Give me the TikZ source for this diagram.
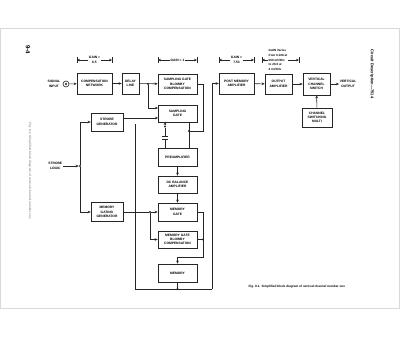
\documentclass[tikz,border=0pt]{standalone}
\usepackage{fontspec}
\setmainfont{Liberation Sans}
\usetikzlibrary{arrows.meta,calc}
\newcommand\gainbr[5]{%
 \node[lbl] (#1) at ({(#2+#3)/2},#4) {#5};
 \draw[arr] (#1.west) -- (#2,#4);
 \draw[arr] (#1.east) -- (#3,#4);
 \draw[tick] (#2,#4-3) -- (#2,#4+3);
 \draw[tick] (#3,#4-3) -- (#3,#4+3);}
\begin{document}
\begin{tikzpicture}[x=1pt,y=-1pt,
  blk/.style={draw=black!85,line width=0.6pt,align=center,inner sep=0pt,font=\fontsize{3.3}{4.3}\selectfont\bfseries},
  lbl/.style={align=center,inner sep=0.6pt,font=\fontsize{3.3}{4.3}\selectfont\bfseries},
  wire/.style={draw=black!85,line width=0.55pt},
  arr/.style={wire,-{Stealth[length=3pt,width=2.6pt]}},
  dot/.style={circle,fill=black!85,inner sep=0pt,minimum size=2.2pt},
  tick/.style={draw=black!85,line width=0.5pt}
]
\useasboundingbox (0,0) rectangle (400,339);
\fill[white] (0,0) rectangle (400,339);
\draw[black!15,line width=1pt] (0.5,28.5) rectangle (399.5,309);

% margin texts
\node[font=\fontsize{6}{7}\selectfont\bfseries,rotate=-90] (pg) at (28,50) {9-4};
\node[font=\fontsize{4}{5}\selectfont\bfseries,rotate=-90] (hdr) at (372,74) {Circuit Description—7514};
\node[font=\fontsize{3.1}{4}\selectfont\bfseries,text=black!40,rotate=-90] (lcap) at (30,171) {Fig. 9-1. Simplified block diagram of vertical channel number one};
\node[font=\fontsize{3.1}{4}\selectfont\bfseries,anchor=west] (cap) at (245,287) {Fig. 9-1. Simplified block diagram of vertical channel number one};

% blocks
\node[blk,minimum width=35pt,minimum height=21pt] (comp) at (94.5,83.5) {COMPENSATION\\NETWORK};
\node[blk,minimum width=17pt,minimum height=21pt] (delay) at (130.5,83.5) {DELAY\\LINE};
\node[blk,minimum width=39pt,minimum height=20pt] (sgbc) at (177.5,84) {SAMPLING GATE\\BLOWBY\\COMPENSATION};
\node[blk,minimum width=39pt,minimum height=17pt] (sg) at (177.5,113.5) {SAMPLING\\GATE};
\node[blk,minimum width=35pt,minimum height=21pt] (pma) at (236.5,83.5) {POST MEMORY\\AMPLIFIER};
\node[blk,minimum width=27pt,minimum height=20pt] (oa) at (278.5,84) {OUTPUT\\AMPLIFIER};
\node[blk,minimum width=27pt,minimum height=22pt] (vcs) at (316.5,84) {VERTICAL\\CHANNEL\\SWITCH};
\node[blk,minimum width=30pt,minimum height=19pt] (csm) at (317,117.5) {CHANNEL\\SWITCHING\\MULTI};
\node[blk,minimum width=32pt,minimum height=18pt] (sgen) at (107,122) {STROBE\\GENERATOR};
\node[blk,minimum width=39pt,minimum height=18pt] (pre) at (177.5,157) {PREAMPLIFIER};
\node[blk,minimum width=39pt,minimum height=17pt] (dcb) at (177.5,184.5) {DC BALANCE\\AMPLIFIER};
\node[blk,minimum width=39pt,minimum height=18pt] (mg) at (177.5,212) {MEMORY\\GATE};
\node[blk,minimum width=32pt,minimum height=19pt] (mgg) at (107,212) {MEMORY\\GATING\\GENERATOR};
\node[blk,minimum width=39pt,minimum height=17pt] (mgbc) at (177.5,239.5) {MEMORY GATE\\BLOWBY\\COMPENSATION};
\node[blk,minimum width=39pt,minimum height=18pt] (mem) at (177.5,273) {MEMORY};

% signal input
\node[circle,draw=black!85,line width=0.6pt,minimum size=6pt,inner sep=0pt] (sig) at (66,84) {};
\fill[black!85] (sig.center) circle (1.1pt);
\node[lbl,anchor=east] (siglbl) at (61,84) {SIGNAL\\INPUT};
\node[lbl,anchor=east] (slog) at (63,166) {STROBE\\LOGIC};
\node[lbl,anchor=west] (vo) at (339,84) {VERTICAL\\OUTPUT};

% gain brackets
\gainbr{g1}{77}{112}{60}{GAIN =\\6.5}
\gainbr{g2}{158}{197}{60}{GAIN = 1}
\gainbr{g3}{219}{254}{60}{GAIN =\\7.53}
\node[lbl,align=left,font=\fontsize{3}{4.8}\selectfont\bfseries] (g4) at (278,60) {GAIN Varies\\from 0.108 at\\500 mV/Div\\to 26.0 at\\2 mV/Div};
\draw[arr] (g4.west) -- (262,60);
\draw[arr] (g4.east) -- (299,60);
\draw[tick] (262,57) -- (262,63);
\draw[tick] (299,57) -- (299,63);

% junctions / points
\node[dot] (j1) at (148,84) {};
\node[dot] (j2) at (80,166) {};
\node[dot] (j3) at (150,212) {};
\node[dot] (j4) at (203,239.5) {};
\node[dot] (j5) at (189,131) {};
\node[dot] (j6) at (177.5,289) {};
\node[dot] (j7) at (165,126.5) {};
\coordinate (sgin1) at (158,108);
\coordinate (sgin2) at (158,118);
\coordinate (sgout) at (123,118);
\coordinate (c5) at (203,257);
\coordinate (c6) at (203,84);
\coordinate (fbL) at (135,289);
\coordinate (fbT) at (135,124);
\coordinate (fbR) at (212,289);
\coordinate (sgb1) at (165,122);
\coordinate (capT) at (165,136.5);
\coordinate (capB) at (165,139.5);
\coordinate (pre1) at (165,148);
\coordinate (sgb2) at (189,122);
\coordinate (pre2) at (189,148);

% main signal path
\draw[arr] (sig) -- (comp);
\draw[arr] (comp) -- (delay);
\draw[arr] (delay) -- (sgbc);
\draw[arr] (j1) |- (sgin1);
\draw[arr] (sgout) -- (sgin2);
\draw[arr] (slog) -- (j2);
\draw[arr] (j2) |- (sgen);
\draw[arr] (j2) |- (mgg);
\draw[wire] (mgg) -- (j3);
\draw[arr] (j3) -- (mg);
\draw[arr] (j3) |- (mgbc);
\draw[wire] (mgbc) -- (j4);
\draw[arr] (mg.east) -| (c5) -| (mem.north);
\draw[arr] (pre) -- (dcb);
\draw[arr] (dcb) -- (mg);

% sampling gate output / capacitor
\draw[arr] (j7) -- (sgb1);
\draw[wire] (j7) -- (capT);
\draw[wire] (capB) -- (pre1);
\draw[wire,line width=0.7pt] (162,136.5) -- (168,136.5);
\draw[wire,line width=0.7pt] (162,139.5) -- (168,139.5);
\draw[wire] (sgb2) -- (pre2);
\draw[wire] (sgbc.east) -- (c6) |- (j5);

% memory feedback / output
\draw[wire] (mem) -- (j6);
\draw[wire] (fbT) -- (fbL) -- (fbR);
\draw[arr] (fbR) |- (pma);
\draw[arr] (pma) -- (oa);
\draw[arr] (oa) -- (vcs);
\draw[arr] (vcs) -- (vo);
\draw[arr] (csm) -- (vcs);
\end{tikzpicture}
\end{document}
